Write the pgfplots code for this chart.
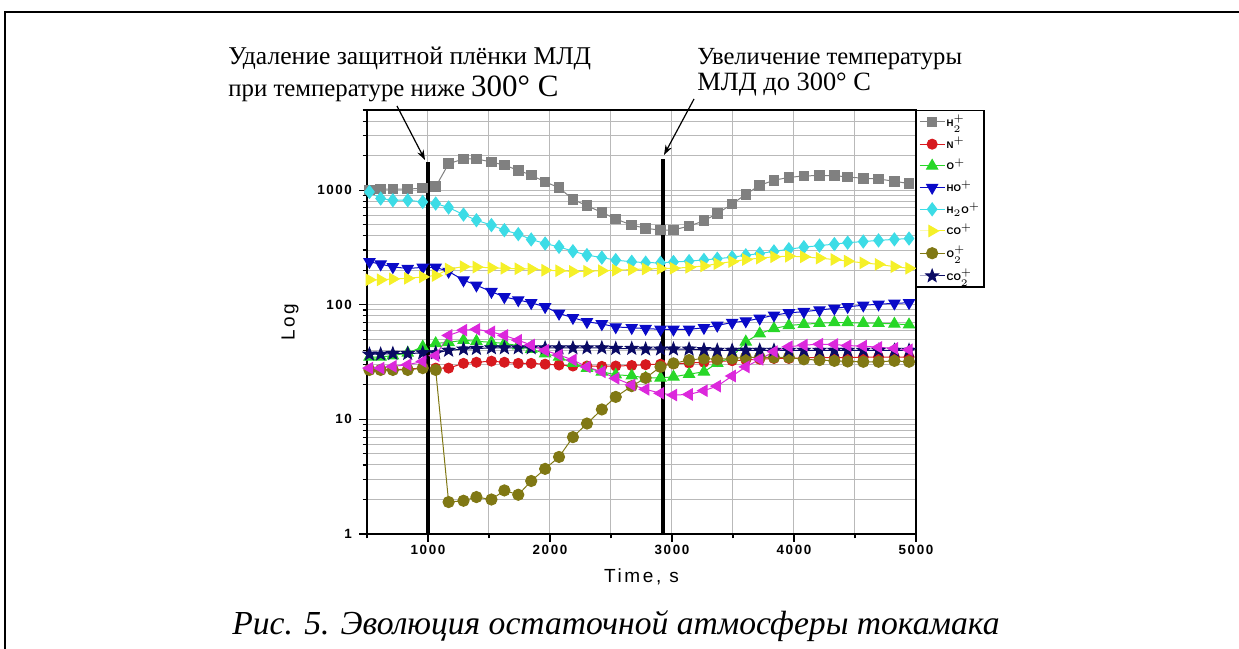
\documentclass[border=0pt]{standalone}
\usepackage{fontspec}
\setmainfont{Liberation Serif}
\setsansfont{Liberation Sans}
\usepackage{pgfplots}
\pgfplotsset{compat=1.18}
\usepackage{pgfplotstable}
\usetikzlibrary{arrows.meta,plotmarks}

\definecolor{cHH}{RGB}{128,128,128}
\definecolor{cN}{RGB}{215,25,30}
\definecolor{cO}{RGB}{40,215,40}
\definecolor{cHO}{RGB}{10,10,200}
\definecolor{cHHO}{RGB}{60,220,230}
\definecolor{cCO}{RGB}{245,240,40}
\definecolor{cOO}{RGB}{128,120,20}
\definecolor{cCOO}{RGB}{10,10,100}
\definecolor{cM}{RGB}{220,40,220}
\definecolor{cGrid}{RGB}{185,185,185}

% filled five-pointed star
\pgfdeclareplotmark{fstar}{%
  \pgfpathmoveto{\pgfqpointpolar{90}{\pgfplotmarksize}}%
  \pgfpathlineto{\pgfqpointpolar{126}{0.42\pgfplotmarksize}}%
  \pgfpathlineto{\pgfqpointpolar{162}{\pgfplotmarksize}}%
  \pgfpathlineto{\pgfqpointpolar{198}{0.42\pgfplotmarksize}}%
  \pgfpathlineto{\pgfqpointpolar{234}{\pgfplotmarksize}}%
  \pgfpathlineto{\pgfqpointpolar{270}{0.42\pgfplotmarksize}}%
  \pgfpathlineto{\pgfqpointpolar{306}{\pgfplotmarksize}}%
  \pgfpathlineto{\pgfqpointpolar{342}{0.42\pgfplotmarksize}}%
  \pgfpathlineto{\pgfqpointpolar{18}{\pgfplotmarksize}}%
  \pgfpathlineto{\pgfqpointpolar{54}{0.42\pgfplotmarksize}}%
  \pgfpathclose
  \pgfusepathqfillstroke}

% ion currents versus time
\pgfplotstableread{
t    H2   N    O    HO   H2O  CO   O2   CO2  X
520  1000 27   35   237  964  165  27   37   28
612  1020 27   35   226  845  165  27   37   28
712  1020 27   36   214  816  168  27   37.5 29
834  1020 27.5 38   207  816  170  27   37.5 30
957  1040 28   43   212  789  175  28   38   32
1063 1070 28   46   212  764  180  27   38   36
1169 1700 28   47   195  705  205  1.9  40   54
1291 1870 30.8 49   164  612  215  1.95 41   60
1397 1870 31.5 48   148  546  213  2.1  41.5 61
1520 1760 32.2 47   130  495  210  2.0  42   58
1626 1650 31.5 46   117  447  208  2.4  42   54
1740 1490 30.8 44   110  413  206  2.2  42   49
1846 1350 30.8 41   104  371  205  2.9  42   44.5
1960 1180 30.3 37.5 96   342  200  3.7  42   40
2074 1050 29.8 35   84   320  198  4.7  42   36.4
2188 830  29.2 31   77   293  195  7.0  42   33
2303 730  29.2 28   71   271  196  9.2  42   28.7
2425 640  29   26   68   258  198  12.2 42   26
2539 560  29.2 24.5 64   245  200  15.7 41.5 22.8
2670 495  29.5 24   63   237  203  19.5 41.5 20
2784 465  30   23   62   233  205  23   41   18.3
2906 447  30.3 23   61   232  207  28.7 41   16.9
3012 450  30.5 23.5 61   236  208  30.8 41   16.3
3140 485  31   24.8 61   240  212  32.9 41   16.5
3262 540  31.5 26   63   246  218  34   40.5 17.8
3371 625  32   31   66   252  228  33.4 40   19.5
3493 755  32.5 35   70   260  238  34   40   23.9
3605 920  33   47.5 72   270  248  34.7 40   28.7
3719 1100 33.5 56   76   280  255  34.7 40   33.4
3836 1220 34   62   81   292  262  34.7 40   39
3958 1290 34   66   85   305  265  34.7 40   43
4081 1330 34.5 67.6 87   318  262  33.4 40   44.4
4209 1340 34.5 69   90   328  255  32.9 40   45.3
4331 1340 34.5 70   93   338  248  32.4 40   45
4440 1300 34.5 70   96   348  240  32   40   44
4568 1270 35   69   99   356  232  31.8 40   43.6
4693 1250 35   69   101  364  225  31.8 40   42.5
4823 1195 35   68   103  372  215  32.4 40   41.6
4943 1140 35   67   104  378  208  31.8 40   40.5
}\gasdata

\begin{document}
\begin{tikzpicture}
\path[use as bounding box] (0,0) rectangle (619.5pt,324.5pt);
\begin{axis}[
  at={(183.5pt,57.5pt)}, anchor=south west,
  scale only axis, width=274.5pt, height=212pt,
  ymode=log, log basis y=10,
  xmin=500, xmax=5000, ymin=1, ymax=5000,
  axis line style={line width=0.75pt},
  xtick={1000,2000,3000,4000,5000},
  xticklabels={1000,2000,3000,4000,5000},
  minor xtick={500,1500,2500,3500,4500},
  ytick={1,10,100,1000},
  yticklabels={1,10,100,1000},
  minor ytick={2,3,4,5,6,7,8,9,20,30,40,50,60,70,80,90,200,300,400,500,600,700,800,900,2000,3000,4000,5000},
  xtick pos=bottom, ytick pos=left,
  tick align=outside,
  major tick length=4pt, minor tick length=2.2pt,
  tick style={black, line width=0.6pt},
  grid=both,
  major grid style={cGrid, line width=0.5pt},
  minor grid style={cGrid, line width=0.5pt},
  ticklabel style={font=\sffamily\bfseries\fontsize{6.7}{7}\selectfont\addfontfeature{LetterSpace=12}},
  xticklabel style={yshift=2pt},
  /pgf/number format/assume math mode=true,
  xlabel={Time, s}, ylabel={Log},
  label style={font=\sffamily\fontsize{9.5}{10}\selectfont\addfontfeature{LetterSpace=14}},
  xlabel style={at={(axis description cs:0.5,-0.1014)}, anchor=center},
  ylabel style={at={(axis description cs:-0.1403,0.5)}, anchor=center},
  legend style={at={(1,1)}, anchor=north west, draw=black, line width=0.75pt,
    font=\sffamily\bfseries\fontsize{4.8}{5.5}\selectfont, fill=white,
    row sep=2.6pt, inner sep=1.2pt, nodes={inner sep=0.7pt}},
  legend cell align=left,
  legend image code/.code={\draw[mark repeat=2,mark phase=2]
    plot coordinates {(0cm,0cm) (0.22cm,0cm) (0.44cm,0cm)};},
  every axis plot/.append style={line width=0.5pt},
]
\addplot[cHH, mark=square*, mark size=2.4pt, mark options={fill=cHH}] table[x=t,y=H2] {\gasdata};
\addlegendentry{H$_2^+$}
\addplot[cN, mark=*, mark size=2.5pt, mark options={fill=cN}] table[x=t,y=N] {\gasdata};
\addlegendentry{N$^+$}
\addplot[cO, mark=triangle*, mark size=3.2pt, mark options={fill=cO}] table[x=t,y=O] {\gasdata};
\addlegendentry{O$^+$}
\addplot[cHO, mark=triangle*, mark size=3.2pt, mark options={fill=cHO, rotate=180}] table[x=t,y=HO] {\gasdata};
\addlegendentry{HO$^+$}
\addplot[cHHO, mark=diamond*, mark size=3.2pt, mark options={fill=cHHO}] table[x=t,y=H2O] {\gasdata};
\addlegendentry{H$_2$O$^+$}
\addplot[cCO, mark=triangle*, mark size=3.2pt, mark options={fill=cCO, rotate=-90}] table[x=t,y=CO] {\gasdata};
\addlegendentry{CO$^+$}
\addplot[cOO, mark=*, mark size=2.8pt, mark options={fill=cOO}] table[x=t,y=O2] {\gasdata};
\addlegendentry{O$_2^+$}
\addplot[cCOO, mark=fstar, mark size=3.3pt, mark options={fill=cCOO}] table[x=t,y=CO2] {\gasdata};
\addlegendentry{CO$_2^+$}
\addplot[cM, mark=triangle*, mark size=3.2pt, mark options={fill=cM, rotate=90}, forget plot] table[x=t,y=X] {\gasdata};
% markers of the two process stages
\draw[line width=2pt] (axis cs:1000,1) -- (axis cs:1000,1750);
\draw[line width=2pt] (axis cs:2930,1) -- (axis cs:2930,1860);
\end{axis}
\begin{scope}[x=0.5pt, y=-0.5pt, yshift=324.5pt]
  \draw[line width=0.75pt] (5,649) -- (5,12) -- (1239,12);
  \node[anchor=base west, inner sep=0pt] at (228,65)
    {\fontsize{12.8}{14}\selectfont Удаление защитной плёнки МЛД};
  \node[anchor=base west, inner sep=0pt] at (228,97)
    {\fontsize{12.4}{14}\selectfont при температуре ниже \fontsize{15.5}{16}\selectfont 300° C};
  \node[anchor=base west, inner sep=0pt] at (697,65)
    {\fontsize{12.3}{14}\selectfont Увеличение температуры};
  \node[anchor=base west, inner sep=0pt] at (697,91)
    {\fontsize{13.2}{14}\selectfont МЛД до 300° C};
  \draw[line width=0.6pt, -{Stealth[length=5pt,width=3.5pt]}] (397,106) -- (425,160);
  \draw[line width=0.6pt, -{Stealth[length=5pt,width=3.5pt]}] (694,99) -- (664,155);
  \node[anchor=base, inner sep=0pt] at (616,634)
    {\itshape\fontsize{16.8}{18}\selectfont Рис. 5. Эволюция остаточной атмосферы токамака};
\end{scope}
\end{tikzpicture}
\end{document}
